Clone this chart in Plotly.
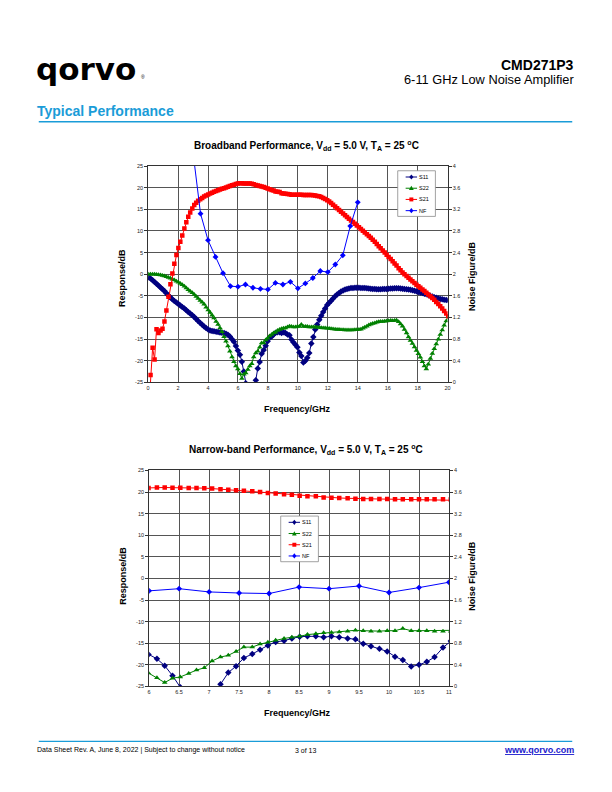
import plotly.graph_objects as go

# ---------------- data ----------------
freq_ghz = [
    0.03, 0.16, 0.30, 0.43, 0.56, 0.69, 0.83, 0.96, 1.09, 1.22,
    1.36, 1.49, 1.62, 1.75, 1.89, 2.02, 2.15, 2.28, 2.42, 2.55,
    2.68, 2.81, 2.95, 3.08, 3.21, 3.34, 3.48, 3.61, 3.74, 3.87,
    4.01, 4.14, 4.27, 4.40, 4.54, 4.67, 4.80, 4.93, 5.07, 5.20,
    5.33, 5.46, 5.60, 5.73, 5.86, 5.99, 6.13, 6.26, 6.39, 6.52,
    6.66, 6.79, 6.92, 7.05, 7.19, 7.32, 7.45, 7.58, 7.72, 7.85,
    7.98, 8.11, 8.25, 8.38, 8.51, 8.64, 8.78, 8.91, 9.04, 9.17,
    9.31, 9.44, 9.57, 9.70, 9.84, 9.97, 10.10, 10.23, 10.37, 10.50,
    10.63, 10.76, 10.90, 11.03, 11.16, 11.29, 11.43, 11.56, 11.69, 11.82,
    11.96, 12.09, 12.22, 12.35, 12.49, 12.62, 12.75, 12.88, 13.02, 13.15,
    13.28, 13.41, 13.55, 13.68, 13.81, 13.94, 14.08, 14.21, 14.34, 14.47,
    14.61, 14.74, 14.87, 15.00, 15.14, 15.27, 15.40, 15.53, 15.67, 15.80,
    15.93, 16.06, 16.20, 16.33, 16.46, 16.59, 16.73, 16.86, 16.99, 17.12,
    17.26, 17.39, 17.52, 17.65, 17.79, 17.92, 18.05, 18.18, 18.32, 18.45,
    18.58, 18.71, 18.85, 18.98, 19.11, 19.24, 19.38, 19.51, 19.64, 19.77,
    19.91, 20.04,
]

s21_db = [
    -32.0, -23.3, -17.0, -19.7, -12.7, -13.6, -13.0, -12.6, -10.9, -8.4,
    -5.2, -2.3, 0.2, 2.45, 4.45, 6.05, 7.5, 8.95, 10.6, 12.0,
    13.3, 14.3, 15.2, 16.0, 16.55, 17.0, 17.35, 17.65, 17.95, 18.2,
    18.45, 18.65, 18.85, 19.05, 19.25, 19.4, 19.6, 19.75, 19.9, 20.05,
    20.25, 20.4, 20.55, 20.7, 20.85, 20.95, 21.05, 21.05, 21.0, 21.0,
    20.95, 20.95, 20.9, 20.8, 20.65, 20.5, 20.4, 20.3, 20.15, 20.0,
    19.8, 19.65, 19.5, 19.35, 19.15, 19.05, 19.0, 18.75, 18.65, 18.62,
    18.55, 18.47, 18.4, 18.4, 18.38, 18.36, 18.35, 18.35, 18.34, 18.33,
    18.32, 18.32, 18.3, 18.25, 18.2, 18.1, 18.0, 17.85, 17.65, 17.4,
    17.1, 16.8, 16.45, 16.05, 15.65, 15.25, 14.85, 14.45, 14.05, 13.65,
    13.25, 12.85, 12.45, 12.05, 11.65, 11.25, 10.85, 10.45, 10.05, 9.65,
    9.25, 8.85, 8.45, 8.0, 7.5, 7.0, 6.5, 6.0, 5.5, 5.0,
    4.5, 4.0, 3.5, 3.0, 2.5, 2.0, 1.4, 0.9, 0.4, 0.0,
    -0.4, -0.8, -1.2, -1.6, -2.0, -2.4, -2.75, -3.1, -3.5, -3.9,
    -4.3, -4.7, -5.1, -5.5, -5.9, -6.4, -6.9, -7.4, -7.9, -8.5,
    -9.1, -9.7,
]

s11_db = [
    -0.7, -1.0, -1.4, -1.8, -2.2, -2.6, -3.05, -3.45, -3.9, -4.4,
    -4.9, -5.35, -5.8, -6.2, -6.55, -6.9, -7.25, -7.55, -7.9, -8.3,
    -8.7, -9.1, -9.5, -9.9, -10.35, -10.8, -11.25, -11.65, -12.1, -12.45,
    -12.8, -13.0, -13.1, -13.2, -13.3, -13.35, -13.45, -13.55, -13.6, -13.75,
    -14.0, -14.4, -15.0, -15.6, -16.6, -17.6, -18.6, -20.2, -22.5, -25.2,
    -28.0, -30.0, -30.0, -27.5, -24.5, -21.8, -20.3, -18.4, -17.5, -16.5,
    -15.5, -14.7, -14.4, -13.9, -13.5, -13.4, -13.4, -13.6, -13.4, -13.6,
    -13.9, -14.1, -15.1, -15.7, -16.3, -16.9, -18.1, -18.9, -20.4, -20.0,
    -19.3, -18.2, -16.0, -14.5, -12.8, -11.6, -10.5, -9.6, -8.7, -7.9,
    -7.1, -6.6, -6.1, -5.6, -5.1, -4.7, -4.35, -4.0, -3.75, -3.55,
    -3.4, -3.3, -3.2, -3.15, -3.1, -3.1, -3.1, -3.15, -3.2, -3.2,
    -3.25, -3.3, -3.35, -3.4, -3.4, -3.45, -3.45, -3.45, -3.4, -3.4,
    -3.4, -3.35, -3.3, -3.3, -3.25, -3.25, -3.25, -3.3, -3.35, -3.4,
    -3.45, -3.5, -3.6, -3.7, -3.8, -3.95, -4.1, -4.2, -4.35, -4.5,
    -4.65, -4.8, -5.0, -5.15, -5.3, -5.45, -5.6, -5.7, -5.8, -5.9,
    -5.95, -6.0,
]

s22_db = [
    0.0, 0.0, 0.0, 0.0, -0.05, -0.1, -0.2, -0.3, -0.4, -0.55,
    -0.75, -0.95, -1.15, -1.35, -1.6, -1.85, -2.15, -2.45, -2.8, -3.2,
    -3.6, -3.95, -4.3, -4.7, -5.15, -5.6, -6.05, -6.5, -6.95, -7.6,
    -8.25, -8.85, -9.45, -10.1, -10.9, -11.6, -12.4, -13.3, -14.45, -15.5,
    -16.6, -17.8, -19.1, -20.2, -21.2, -21.9, -23.0, -24.1, -23.1, -22.8,
    -22.0, -21.2, -20.7, -19.1, -18.2, -17.8, -16.9, -15.9, -15.9, -15.2,
    -14.8, -14.3, -13.9, -13.6, -13.4, -13.0, -12.8, -12.6, -12.5, -12.4,
    -12.2, -12.0, -12.1, -12.2, -12.2, -12.1, -12.1, -11.6, -12.1, -12.1,
    -12.1, -12.2, -12.2, -12.2, -12.2, -12.25, -12.3, -12.35, -12.4, -12.45,
    -12.5, -12.55, -12.6, -12.65, -12.7, -12.75, -12.8, -12.85, -12.85, -12.9,
    -12.9, -12.9, -12.9, -12.9, -12.85, -12.85, -12.8, -12.7, -12.5, -12.25,
    -12.0, -11.75, -11.55, -11.4, -11.25, -11.1, -11.0, -10.95, -10.9, -10.85,
    -10.8, -10.75, -10.7, -10.75, -10.7, -10.65, -11.0, -11.5, -12.0, -12.8,
    -13.6, -14.5, -15.3, -16.0, -16.8, -17.6, -18.4, -19.2, -20.2, -21.2,
    -21.9, -20.8, -19.5, -18.3, -17.2, -16.1, -15.0, -13.9, -12.9, -11.8,
    -10.8, -9.8,
]

nf_freq_ghz = [3.0, 3.5, 4.0, 4.5, 5.0, 5.5, 6.0, 6.5, 7.0, 7.5, 8.0, 8.5,
               9.0, 9.5, 10.0, 10.5, 11.0, 11.5, 12.0, 12.5, 13.0, 13.5, 14.0]
nf_db = [4.25, 3.12, 2.63, 2.32, 2.02, 1.78, 1.77, 1.81, 1.75, 1.73, 1.72, 1.84,
         1.81, 1.86, 1.74, 1.83, 1.93, 2.06, 2.04, 2.18, 2.35, 2.89, 3.33]

assert len(freq_ghz) == len(s21_db) == len(s11_db) == len(s22_db)
assert len(nf_freq_ghz) == len(nf_db)

series_names = ["S11", "S22", "S21", "NF"]
resp_ticks = [-25, -20, -15, -10, -5, 0, 5, 10, 15, 20, 25]
resp_tick_labels = ["-25", "-20", "-15", "-10", "-5", "0", "5", "10", "15", "20", "25"]
nf_ticks = [0, 0.4, 0.8, 1.2, 1.6, 2.0, 2.4, 2.8, 3.2, 3.6, 4.0]
nf_tick_labels = ["0", "0.4", "0.8", "1.2", "1.6", "2", "2.4", "2.8", "3.2", "3.6", "4"]
bb_x_ticks = [0, 2, 4, 6, 8, 10, 12, 14, 16, 18, 20]
bb_x_labels = ["0", "2", "4", "6", "8", "10", "12", "14", "16", "18", "20"]
nb_x_ticks = [6, 6.5, 7, 7.5, 8, 8.5, 9, 9.5, 10, 10.5, 11]
nb_x_labels = ["6", "6.5", "7", "7.5", "8", "8.5", "9", "9.5", "10", "10.5", "11"]

# ---------------- layout helpers ----------------
# The page body has an 8px default margin, so the figure is placed at (8, 8)
# and sized so that page + margins is exactly 612 x 792.
OFF = 8
W, H = 612 - 2 * OFF, 792 - 2 * OFF
FONT = "Liberation Sans, Arial, sans-serif"


def px(x):
    return (x - OFF) / W


def py(y):
    return 1 - (y - OFF) / H


styles = {
    "S11": dict(color="#000080", symbol="diamond", size=5),
    "S22": dict(color="#008000", symbol="triangle-up", size=5),
    "S21": dict(color="#ff0000", symbol="square", size=4.5),
    "NF": dict(color="#0000ff", symbol="diamond", size=4.5),
}

fig = go.Figure()

panels = [("x", "y", "y2"), ("x2", "y3", "y4")]
for xa, ya, ya_nf in panels:
    for name, vals in (("S11", s11_db), ("S22", s22_db), ("S21", s21_db)):
        st = styles[name]
        fig.add_trace(go.Scatter(
            x=freq_ghz, y=vals, mode="lines+markers", name=name,
            xaxis=xa, yaxis=ya, showlegend=False,
            line=dict(color=st["color"], width=1),
            marker=dict(symbol=st["symbol"], size=st["size"], color=st["color"],
                        line=dict(width=0)),
        ))
    st = styles["NF"]
    fig.add_trace(go.Scatter(
        x=nf_freq_ghz, y=nf_db, mode="lines+markers", name="NF",
        xaxis=xa, yaxis=ya_nf, showlegend=False,
        line=dict(color=st["color"], width=1),
        marker=dict(symbol=st["symbol"], size=st["size"], color=st["color"],
                    line=dict(width=0)),
    ))

GRID = "#555555"
tickfont = dict(family=FONT, size=5.5, color="#222")

common_x = dict(showgrid=True, gridcolor=GRID, gridwidth=1, zeroline=False,
                showline=True, linecolor="#333", linewidth=1, mirror=True,
                ticks="", tickfont=tickfont, fixedrange=True)
common_y = dict(showgrid=True, gridcolor=GRID, gridwidth=1, zeroline=False,
                showline=True, linecolor="#333", linewidth=1,
                ticks="outside", ticklen=3, tickcolor="#333",
                tickvals=resp_ticks, ticktext=resp_tick_labels,
                range=[-25, 25], tickfont=tickfont, fixedrange=True)
common_nf = dict(side="right", range=[0, 4], showgrid=False, zeroline=False,
                 showline=True, linecolor="#333", linewidth=1,
                 ticks="outside", ticklen=3, tickcolor="#333",
                 tickvals=nf_ticks, ticktext=nf_tick_labels,
                 tickfont=tickfont, fixedrange=True)

bb_xdom = [px(147.3), px(449.3)]
bb_ydom = [py(382.3), py(164.3)]
nb_xdom = [px(148.3), px(450.7)]
nb_ydom = [py(688.7), py(471.0)]

fig.update_layout(
    width=W, height=H, margin=dict(l=0, r=0, t=0, b=0),
    paper_bgcolor="white", plot_bgcolor="white", showlegend=False,
    font=dict(family=FONT, color="#000"),
    xaxis=dict(domain=bb_xdom, range=[0, 20], anchor="y",
               tickvals=bb_x_ticks, ticktext=bb_x_labels, **common_x),
    yaxis=dict(domain=bb_ydom, anchor="x", **common_y),
    yaxis2=dict(overlaying="y", anchor="x", **common_nf),
    xaxis2=dict(domain=nb_xdom, range=[6, 11], anchor="y3",
                tickvals=nb_x_ticks, ticktext=nb_x_labels, **common_x),
    yaxis3=dict(domain=nb_ydom, anchor="x2", **common_y),
    yaxis4=dict(overlaying="y3", anchor="x2", **common_nf),
)

annotations = []
shapes = []


def text(x, y, s, size, bold=False, color="#000", xanchor="center", angle=0, family=FONT):
    annotations.append(dict(
        xref="paper", yref="paper", x=px(x), y=py(y), text=(f"<b>{s}</b>" if bold else s),
        showarrow=False, xanchor=xanchor, yanchor="middle", textangle=angle,
        font=dict(family=family, size=size, color=color)))


# ---------------- page header ----------------
text(32, 66, "qorvo", 31, bold=True, xanchor="left", family="DejaVu Sans, sans-serif")
text(138, 75, "®", 5, xanchor="left")
text(579, 62, "CMD271P3", 14, bold=True, xanchor="right")
text(579, 77, "6-11 GHz Low Noise Amplifier", 12.8, xanchor="right")
text(33.5, 109, "Typical Performance", 14, bold=True, color="#1a9cd8", xanchor="left")
shapes.append(dict(type="line", xref="paper", yref="paper", x0=px(37), x1=px(575),
                   y0=py(119.5), y1=py(119.5), line=dict(color="#1a9cd8", width=1.5)))

# ---------------- chart titles / axis titles ----------------
title_bb = "Broadband Performance, V<sub>dd</sub> = 5.0 V, T<sub>A</sub> = 25 <sup>o</sup>C"
title_nb = "Narrow-band Performance, V<sub>dd</sub> = 5.0 V, T<sub>A</sub> = 25 <sup>o</sup>C"
text(307, 144, title_bb, 10, bold=True)
text(121, 277, "Response/dB", 9, bold=True, angle=-90)
text(474, 275, "Noise Figure/dB", 9, bold=True, angle=-90)
text(298, 409, "Frequency/GHz", 9, bold=True)

text(307, 450, title_nb, 10, bold=True)
text(122, 577, "Response/dB", 9, bold=True, angle=-90)
text(474, 577, "Noise Figure/dB", 9, bold=True, angle=-90)
text(298, 715, "Frequency/GHz", 9, bold=True)


# ---------------- legends (drawn as layout decorations) ----------------
def marker_shape(name, cx, cy):
    st = styles[name]
    c = st["color"]
    if st["symbol"] == "square":
        return dict(type="rect", xref="paper", yref="paper",
                    x0=px(cx - 2), x1=px(cx + 2), y0=py(cy + 2), y1=py(cy - 2),
                    fillcolor=c, line=dict(width=0))
    if st["symbol"] == "triangle-up":
        path = (f"M {px(cx - 2.4)},{py(cy + 1.9)} L {px(cx + 2.4)},{py(cy + 1.9)} "
                f"L {px(cx)},{py(cy - 2.4)} Z")
    else:
        path = (f"M {px(cx)},{py(cy - 2.6)} L {px(cx + 2.1)},{py(cy)} "
                f"L {px(cx)},{py(cy + 2.6)} L {px(cx - 2.1)},{py(cy)} Z")
    return dict(type="path", xref="paper", yref="paper", path=path,
                fillcolor=c, line=dict(width=0))


def add_legend(x0, y0):
    shapes.append(dict(type="rect", xref="paper", yref="paper",
                       x0=px(x0), x1=px(x0 + 38), y0=py(y0 + 46), y1=py(y0),
                       fillcolor="white", line=dict(color="#8a8a8a", width=0.8)))
    for i, name in enumerate(series_names):
        yy = y0 + 6.3 + i * 11.3
        c = styles[name]["color"]
        shapes.append(dict(type="line", xref="paper", yref="paper",
                           x0=px(x0 + 8), x1=px(x0 + 19.5), y0=py(yy), y1=py(yy),
                           line=dict(color=c, width=1)))
        shapes.append(marker_shape(name, x0 + 13.75, yy))
        text(x0 + 19.5, yy, name, 5.5, xanchor="left")


add_legend(399, 169)
add_legend(281, 517)

# ---------------- footer ----------------
shapes.append(dict(type="line", xref="paper", yref="paper", x0=px(37), x1=px(575),
                   y0=py(744), y1=py(744), line=dict(color="#1a9cd8", width=1.2)))
text(33.5, 753, "Data Sheet Rev. A, June 8, 2022 | Subject to change without notice", 7, xanchor="left")
text(306, 753, "3 of 13", 7)
text(579, 753, "<u>www.qorvo.com</u>", 9, bold=True, color="#1a1acc", xanchor="right")

fig.update_layout(annotations=annotations, shapes=shapes)

fig.write_html("out.html", config={"displayModeBar": False})
